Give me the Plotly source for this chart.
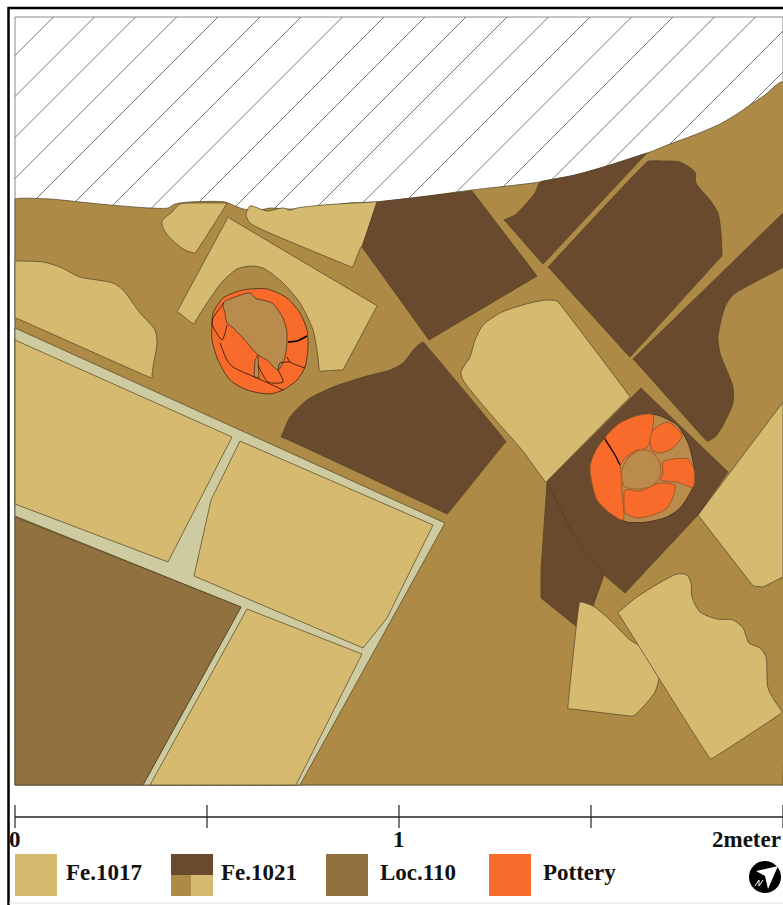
import plotly.graph_objects as go

# ---- colours by material
GROUND = "#AD8B46"; LIGHT = "#D5BA70"; DARK = "#694A2E"; LOC = "#90713F"
POT = "#F96B2A"; PALE = "#CFCBA0"; TAN = "#B98C4E"; EDGE = "#4F4024"

# ---- scale bar and legend text
scale_ticks = [15, 207, 399, 591, 783]
scale_labels = [(9, "0"), (393, "1"), (712, "2meter")]
legend_labels = [(66, "Fe.1017"), (221, "Fe.1021"), (380, "Loc.110"), (543, "Pottery")]
hatch_tops = [53.5, 94.5, 135.5, 176.5, 218, 260, 301, 342.5, 384, 425, 466, 507, 548.5, 590, 631.5, 673, 714.5, 755.5, 797, 838]

# ---- plan outlines (plan units)
ground = [(15,199),(50,199),(80,202),(110,205),(150,208),(168,208),(175,204),(190,202),(225,202),(240,208),(255,211),(270,208),(285,209),(300,209),(308,210),(320,207),(350,203),(375,202),(420,197),(472,190),(540,182),(575,175),(607,166),(650,152),(670,144),(697,134),(720,124),(737,114),(750,105),(765,95),(783,82),(783,783),(783,785),(781,785),(17,785),(15,785),(15,783),(15,201)]
pale = [(15,328),(445,523),(300,785),(143,785),(241,607),(15,516)]
loc110 = [(15,517),(241,607),(143,785),(15,785)]
light_a = [(15,340),(232,437),(168,562),(15,504)]
light_b = [(240,441),(433,525),(387,618),(363,648),(194,576),(211,500)]
light_c = [(247,609),(362,654),(296,785),(150,785)]
light_h = [(783,402),(698,515),(753,586),(763,587),(783,577)]
dark_1 = [(377,202),(472,191),(537,276),(429,340),(362,247)]
dark_6 = [(641,388),(728,472),(698,515),(625,593),(604,575),(573,535),(547,482)]
dark_7 = [(547,482),(541,570),(541,598),(577,627),(580,602),(593,606),(604,575),(573,535)]

# curved outlines
light_left = [(15,261),(18,261),(43,262),(60,267),(80,277),(113,283),(123,290),(140,313),(155,330),(157,343),(153,367),(152,376),(152,378),(149,377),(18,319),(15,318),(15,316),(15,263)]
light_d = [(163,228),(162,221),(172,212),(180,204),(200,203),(225,203),(227,203),(226,205),(196,252),(195,253),(185,250),(170,238)]
light_e = [(246,215),(250,206),(267,211),(283,208),(290,210),(297,208),(323,205),(375,202),(377,202),(376,205),(362,246),(361,247),(353,266),(352,267),(349,266),(263,230),(250,223)]
light_f = [(228,217),(231,219),(374,304),(377,306),(376,308),(344,368),(343,370),(340,370),(323,371),(320,371),(319,368),(318,357),(313,330),(300,303),(283,283),(263,268),(250,266),(237,269),(222,282),(207,303),(195,322),(194,324),(192,323),(179,313),(177,312),(178,310),(227,219)]
light_g = [(557,301),(547,300),(530,303),(502,312),(483,325),(475,340),(470,357),(461,372),(463,380),(493,417),(522,450),(544,480),(546,482),(548,480),(628,399),(630,397),(628,394),(559,303)]
light_i = [(580,602),(593,606),(610,620),(630,640),(643,648),(655,667),(659,677),(655,692),(643,707),(635,715),(633,716),(630,716),(571,709),(568,709),(568,706),(579,605)]
light_j = [(618,613),(620,611),(637,597),(677,574),(687,575),(691,583),(692,597),(700,612),(717,619),(733,620),(743,628),(749,643),(760,648),(766,657),(768,688),(780,709),(782,712),(780,714),(713,758),(711,759),(709,757),(620,616)]
dark_2 = [(423,342),(415,348),(403,363),(390,370),(367,376),(333,387),(307,400),(290,417),(282,435),(281,437),(284,438),(445,513),(447,514),(449,512),(504,444),(506,442),(504,439),(425,344)]
dark_3 = [(540,182),(535,193),(525,205),(515,215),(506,219),(504,220),(506,222),(542,263),(543,264),(545,262),(645,155),(647,153),(644,154),(607,166),(575,175),(543,181)]
dark_4 = [(649,161),(664,161),(680,162),(695,172),(696,183),(710,200),(718,213),(721,233),(722,254),(722,256),(720,258),(632,355),(630,357),(628,355),(550,269),(548,267),(550,265),(647,162)]
dark_5 = [(783,267),(780,269),(733,295),(725,307),(718,337),(720,353),(733,387),(733,403),(722,427),(715,437),(707,441),(704,438),(635,361),(633,359),(635,357),(781,215),(783,213)]

pot1_outer = [(212,323),(213,313),(223,298),(243,290),(267,289),(287,298),(300,313),(307,330),(308,347),(305,367),(297,380),(283,390),(270,394),(247,390),(230,380),(218,360),(212,340)]
pot1_inner = [(223,303),(235,297),(250,293),(255,298),(272,303),(283,318),(287,333),(285,357),(278,370),(267,360),(258,355),(243,338),(232,327),(227,323),(225,313)]
pot1_slit = [(255,360),(258,355),(259,378),(254,377)]
pot1_cracks = [
    [(288,342),(297,341),(307,336)],
    [(287,357),(290,362),(305,368)],
    [(278,370),(280,363),(290,362)],
    [(212,325),(222,340),(227,325)],
    [(220,343),(227,360),(233,367),(257,378),(268,383),(283,390)],
    [(258,365),(268,382),(283,382),(278,370)],
    [(224,303),(213,318),(212,325)],
]
pot2_outer = [(590,467),(595,452),(605,438),(620,423),(640,415),(657,415),(677,425),(688,443),(694,467),(693,487),(680,508),(667,517),(647,522),(627,522),(610,513),(597,500),(592,483)]
pot2_p1 = [(605,439),(615,455),(620,465),(622,490),(623,520),(610,513),(597,500),(592,483),(590,467),(595,452)]
pot2_p2 = [(605,439),(620,423),(640,415),(653,415),(647,448),(637,450),(625,458),(620,465),(615,455)]
pot2_p3 = [(653,430),(668,422),(682,435),(673,448),(660,453),(652,450),(650,440)]
pot2_p4 = [(663,462),(688,459),(694,470),(693,487),(677,482),(661,480),(663,473)]
pot2_p5 = [(625,490),(640,491),(660,483),(675,485),(673,497),(667,508),(653,515),(637,518),(625,513),(624,503)]
pot2_centre = [(622,470),(628,458),(640,450),(652,452),(660,463),(660,477),(652,486),(637,489),(625,487),(622,480)]

# ---- legend swatches
swatch_1 = [(15,854),(57,854),(57,896),(15,896)]
swatch_2a = [(171,854),(213,854),(213,875),(171,875)]
swatch_2b = [(171,875),(191,875),(191,896),(171,896)]
swatch_2c = [(191,875),(213,875),(213,896),(191,896)]
swatch_3 = [(326,854),(368,854),(368,896),(326,896)]
swatch_4 = [(489,854),(531,854),(531,896),(489,896)]
north_arrow = [(756,871),(778,866),(768,889),(765,876)]
north_mark = [(755,886),(759,880),(759,886),(763,880)]

fig = go.Figure()

def poly(pts, fill, edge=EDGE, width=0.7, smooth=False):
    xs = [p[0] for p in pts] + [pts[0][0]]
    ys = [p[1] for p in pts] + [pts[0][1]]
    line = dict(color=edge if edge else fill, width=width)
    if smooth:
        line.update(shape="spline", smoothing=0.7, simplify=False)
    fig.add_trace(go.Scatter(x=xs, y=ys, mode="lines", fill="toself", fillcolor=fill,
                             line=line, hoverinfo="skip", showlegend=False))

def path(pts, color="#20140A", width=0.8, smooth=False):
    line = dict(color=color, width=width)
    if smooth:
        line.update(shape="spline", smoothing=0.7, simplify=False)
    fig.add_trace(go.Scatter(x=[p[0] for p in pts], y=[p[1] for p in pts], mode="lines",
                             line=line, hoverinfo="skip", showlegend=False))

# frame and white field
path([(8.5,905),(8.5,8),(783,8)], "#000000", 2.5)
path([(9,903),(783,903)], "#E2E2E2", 1)
poly([(15,17),(783,17),(783,785),(15,785)], "#FFFFFF", "#8A8A8A", 1)

# hatching of the unexcavated baulk
for top in hatch_tops:
    x0 = min(top, 783)
    y0 = 17 + (top - x0)
    y1 = min(2 + top, 240)
    path([(x0, y0), (top + 17 - y1, y1)], "#666666", 0.9)

poly(ground, GROUND, smooth=True)
poly(pale, PALE)
poly(loc110, LOC)
for p in [light_a, light_b, light_c, light_h]:
    poly(p, LIGHT)
for p in [light_left, light_d, light_e, light_f, light_g]:
    poly(p, LIGHT, smooth=True)
for p in [dark_1, dark_6, dark_7]:
    poly(p, DARK)
for p in [dark_2, dark_3, dark_4, dark_5]:
    poly(p, DARK, smooth=True)
for p in [light_i, light_j]:
    poly(p, LIGHT, smooth=True)

# pottery west
poly(pot1_outer, POT, "#3A2A18", 0.8, smooth=True)
poly(pot1_inner, TAN, "#3A2A18", 0.7, smooth=True)
poly(pot1_slit, TAN, "#3A2A18", 0.7)
for c in pot1_cracks:
    path(c, smooth=True)
path(pot1_cracks[0], "#000000", 1.5, smooth=True)

# pottery east
poly(pot2_outer, TAN, "#3A2A18", 0.8, smooth=True)
for p in [pot2_p1, pot2_p2, pot2_p3, pot2_p4, pot2_p5]:
    poly(p, POT, "#9A5A2A", 1, smooth=True)
poly(pot2_centre, TAN, "#B5622F", 1.2, smooth=True)
path([(605,439),(615,455),(620,465)], "#000000", 1.2, smooth=True)

# scale bar
path([(15,817),(783,817)], "#222222", 1.6)
for t in scale_ticks:
    path([(t,805),(t,828)], "#222222", 1.2)
fig.add_trace(go.Scatter(x=[p[0] for p in scale_labels], y=[841]*len(scale_labels),
                         text=[p[1] for p in scale_labels], mode="text", textposition="middle right",
                         textfont=dict(family="Liberation Serif", size=23, color="#111111"),
                         texttemplate="<b>%{text}</b>", hoverinfo="skip", showlegend=False))

# legend
poly(swatch_1, LIGHT, None, 0)
poly(swatch_2a, DARK, None, 0)
poly(swatch_2b, GROUND, None, 0)
poly(swatch_2c, LIGHT, None, 0)
poly(swatch_3, LOC, None, 0)
poly(swatch_4, POT, None, 0)
fig.add_trace(go.Scatter(x=[p[0] for p in legend_labels], y=[874]*len(legend_labels),
                         text=[p[1] for p in legend_labels], mode="text", textposition="middle right",
                         textfont=dict(family="Liberation Serif", size=23, color="#111111"),
                         texttemplate="<b>%{text}</b>", hoverinfo="skip", showlegend=False))

# north arrow
fig.add_trace(go.Scatter(x=[765], y=[877], mode="markers", marker=dict(size=32, color="#000000"),
                         hoverinfo="skip", showlegend=False))
poly(north_arrow, "#FFFFFF", None, 0)
path(north_mark, "#FFFFFF", 1)

fig.update_layout(width=783, height=905, margin=dict(l=0, r=0, t=0, b=0),
                  paper_bgcolor="#FFFFFF", plot_bgcolor="#FFFFFF", showlegend=False,
                  xaxis=dict(range=[0, 783], visible=False, fixedrange=True),
                  yaxis=dict(range=[905, 0], visible=False, fixedrange=True))
fig.write_html("out.html", config={"displayModeBar": False},
               post_script="document.body.style.margin='0';document.body.style.overflow='hidden';")
